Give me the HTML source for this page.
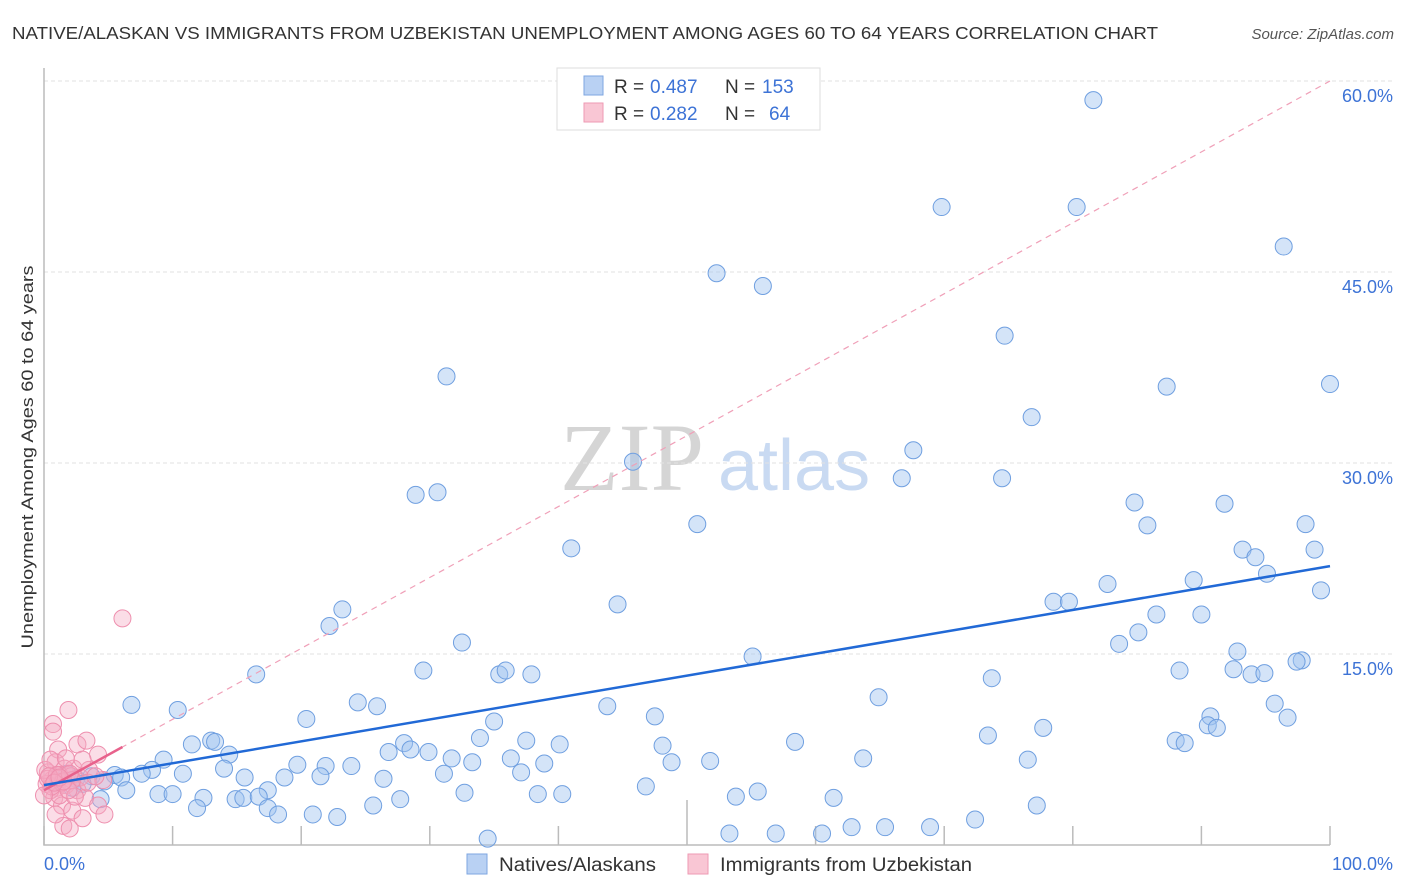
<!DOCTYPE html>
<html><head><meta charset="utf-8"><style>
body{margin:0;background:#fff;font-family:"Liberation Sans",sans-serif}
#wrap{position:relative;width:1406px;height:892px;overflow:hidden}
</style></head><body>
<div id="wrap">
<svg id="svg" width="1406" height="892" xmlns="http://www.w3.org/2000/svg">
<text x="12" y="39" font-size="17.5" fill="#333" textLength="1146" lengthAdjust="spacingAndGlyphs">NATIVE/ALASKAN VS IMMIGRANTS FROM UZBEKISTAN UNEMPLOYMENT AMONG AGES 60 TO 64 YEARS CORRELATION CHART</text>
<text x="1394" y="39" font-size="15" fill="#555" font-style="italic" text-anchor="end">Source: ZipAtlas.com</text>
<text x="560" y="490" font-size="96" fill="#d5d5d5" font-family="Liberation Serif,serif">ZIP</text>
<text x="718" y="490" font-size="72" fill="#c9daf2">atlas</text>
<g id="grid"></g>
<g id="marks"></g>
<text transform="translate(33,457) rotate(-90)" font-size="17" fill="#333" text-anchor="middle" textLength="383" lengthAdjust="spacingAndGlyphs">Unemployment Among Ages 60 to 64 years</text>
<g>
<rect x="557" y="68" width="263" height="62" fill="#fff" stroke="#ddd"/>
<rect x="584" y="76" width="19" height="19" fill="#b9d1f3" stroke="#7ea6e0"/>
<rect x="584" y="103" width="19" height="19" fill="#f9c6d4" stroke="#ee9ab3"/>
<text x="614" y="93" font-size="19" fill="#333">R =</text>
<text x="650" y="93" font-size="19" fill="#3d73d6">0.487</text>
<text x="725" y="93" font-size="19" fill="#333">N =</text>
<text x="762" y="93" font-size="19" fill="#3d73d6">153</text>
<text x="614" y="120" font-size="19" fill="#333">R =</text>
<text x="650" y="120" font-size="19" fill="#3d73d6">0.282</text>
<text x="725" y="120" font-size="19" fill="#333">N =</text>
<text x="769" y="120" font-size="19" fill="#3d73d6">64</text>
</g>
<g>
<rect x="467" y="854" width="20" height="20" fill="#b9d1f3" stroke="#7ea6e0"/>
<text x="499" y="871" font-size="19" fill="#333" textLength="157" lengthAdjust="spacingAndGlyphs">Natives/Alaskans</text>
<rect x="688" y="854" width="20" height="20" fill="#f9c6d4" stroke="#ee9ab3"/>
<text x="720" y="871" font-size="19" fill="#333" textLength="252" lengthAdjust="spacingAndGlyphs">Immigrants from Uzbekistan</text>
</g>
</svg>
</div>
<script>
const yTicks=[15,30,45,60];
const yTickLabels=["15.0%","30.0%","45.0%","60.0%"];
const xTicks=[0,10,20,30,40,50,60,70,80,90,100];
const blueX=[81.6,69.8,80.3,52.3,55.9,96.4,74.7,31.3,87.3,100,76.8,67.6,45.8,66.7,74.5,28.9,30.6,84.8,91.8,50.8,85.8,98.1,41.0,93.2,94.2,98.8,95.1,82.7,89.4,99.3,44.6,78.5,79.7,23.2,22.2,86.5,90.0,85.1,32.5,83.6,92.8,55.1,97.8,97.4,16.5,29.5,35.4,35.9,37.9,88.3,92.5,93.9,94.9,73.7,64.9,6.8,10.4,24.4,25.9,43.8,95.7,20.4,47.5,90.7,96.7,35.0,77.7,90.5,91.2,11.5,13.0,13.3,33.9,28.0,37.5,40.1,73.4,88.0,88.7,58.4,48.1,14.4,26.8,28.5,29.9,31.7,36.3,9.3,63.7,76.5,48.8,51.8,33.3,38.9,21.9,23.9,8.4,14.0,19.7,7.6,10.8,15.6,18.7,21.5,31.1,37.1,26.4,3.7,5.5,6.0,4.7,6.4,46.8,17.4,55.5,32.7,8.9,10.0,12.4,14.9,15.5,16.7,27.7,38.4,40.3,53.8,61.4,4.4,11.9,17.4,25.6,77.2,18.2,20.9,22.8,72.4,62.8,65.4,68.9,53.3,56.9,60.5,34.5,2.5,3.0,1.8,2.2];
const blueY=[58.5,50.1,50.1,44.9,43.9,47.0,40.0,36.8,36.0,36.2,33.6,31.0,30.1,28.8,28.8,27.5,27.7,26.9,26.8,25.2,25.1,25.2,23.3,23.2,22.6,23.2,21.3,20.5,20.8,20.0,18.9,19.1,19.1,18.5,17.2,18.1,18.1,16.7,15.9,15.8,15.2,14.8,14.5,14.4,13.4,13.7,13.4,13.7,13.4,13.7,13.8,13.4,13.5,13.1,11.6,11.0,10.6,11.2,10.9,10.9,11.1,9.9,10.1,10.1,10.0,9.7,9.2,9.4,9.2,7.9,8.2,8.1,8.4,8.0,8.2,7.9,8.6,8.2,8.0,8.1,7.8,7.1,7.3,7.5,7.3,6.8,6.8,6.7,6.8,6.7,6.5,6.6,6.5,6.4,6.2,6.2,5.9,6.0,6.3,5.6,5.6,5.3,5.3,5.4,5.6,5.7,5.2,5.4,5.5,5.3,5.0,4.3,4.6,4.3,4.2,4.1,4.0,4.0,3.7,3.6,3.7,3.8,3.6,4.0,4.0,3.8,3.7,3.6,2.9,2.9,3.1,3.1,2.4,2.4,2.2,2.0,1.4,1.4,1.4,0.9,0.9,0.9,0.5,5.2,4.8,5.6,4.5];
const pinkX=[6.1,1.9,0.7,0.7,2.6,3.3,1.1,4.2,0.9,1.6,2.3,0.3,1.2,2.1,0.6,2.8,0.2,1.0,1.7,3.5,2.6,4.6,3.2,0.8,1.4,2.2,4.2,4.7,3.0,1.5,2.0,0.9,0.5,1.2,2.4,0.1,0.5,1.7,3.4,4.0,1.1,2.2,0.3,0.6,1.4,1.9,0,3.0,1.0,1.5,2.0,0.4,0.8,1.2];
const pinkY=[17.8,10.6,9.5,8.9,7.9,8.2,7.5,7.1,6.5,6.0,6.0,5.7,5.5,5.4,5.1,5.3,4.8,4.5,4.7,5.9,4.3,5.1,3.7,3.7,3.1,2.7,3.1,2.4,2.1,1.5,1.3,2.4,4.3,3.9,3.8,5.9,6.7,6.8,4.9,5.4,5.2,5.1,5.2,4.6,4.9,4.3,3.9,6.7,5.5,5.0,5.6,5.4,4.9,5.3];
const blueTrend=[4.7,21.9];
const pinkTrend=[4.3,60];
const pinkSolidEnd=6.1;
const NS='http://www.w3.org/2000/svg';
const X=v=>44+v*12.86, Y=v=>845-v*191/15;
const grid=document.getElementById('grid'), marks=document.getElementById('marks');
function mk(tag,attrs,parent){const e=document.createElementNS(NS,tag);for(const k in attrs)e.setAttribute(k,attrs[k]);parent.appendChild(e);return e;}
yTicks.forEach((t,i)=>{
 const l=mk('line',{x1:44,x2:1394,y1:Y(t),y2:Y(t),stroke:'#e2e2e2','stroke-dasharray':'4,3'},grid);
 
 
 const tx=mk('text',{x:1393,y:Y(t)+21,'font-size':18,fill:'#3d73d6','text-anchor':'end'},grid);
 tx.textContent=yTickLabels[i];
 
 
});
const ax=mk('path',{d:'M44 68 V845 H1330',fill:'none',stroke:'#bbb','stroke-width':1.5},grid);


xTicks.forEach(t=>{
 const l=mk('line',{x1:X(t),x2:X(t),y1:t==50?800:826,y2:845,stroke:'#bbb','stroke-width':1.5},grid);
 
 
});
const xl0=mk('text',{x:44,y:870,'font-size':18,fill:'#3d73d6'},grid);xl0.textContent='0.0%';


const xl1=mk('text',{x:1393,y:870,'font-size':18,fill:'#3d73d6','text-anchor':'end'},grid);xl1.textContent='100.0%';


blueX.forEach((x,i)=>{
 const c=mk('circle',{cx:X(x),cy:Y(blueY[i]),r:8.5,fill:'rgba(160,196,240,0.45)',stroke:'#6f9fe0','stroke-width':1},marks);
 
 
});
pinkX.forEach((x,i)=>{
 const c=mk('circle',{cx:X(x),cy:Y(pinkY[i]),r:8.5,fill:'rgba(246,170,194,0.4)',stroke:'#ee8fae','stroke-width':1},marks);
 
 
});
const pd=mk('line',{x1:X(0),y1:Y(pinkTrend[0]),x2:X(100),y2:Y(pinkTrend[1]),stroke:'#f0a0b8','stroke-width':1.2,'stroke-dasharray':'6,5'},marks);


const ps=mk('line',{x1:X(0),y1:Y(pinkTrend[0]),x2:X(pinkSolidEnd),y2:Y(pinkTrend[0]+(pinkTrend[1]-pinkTrend[0])*pinkSolidEnd/100),stroke:'#e8628c','stroke-width':2.5},marks);


const bl=mk('line',{x1:X(0),y1:Y(blueTrend[0]),x2:X(100),y2:Y(blueTrend[1]),stroke:'#2169d6','stroke-width':2.5},marks);


</script>
</body></html>
